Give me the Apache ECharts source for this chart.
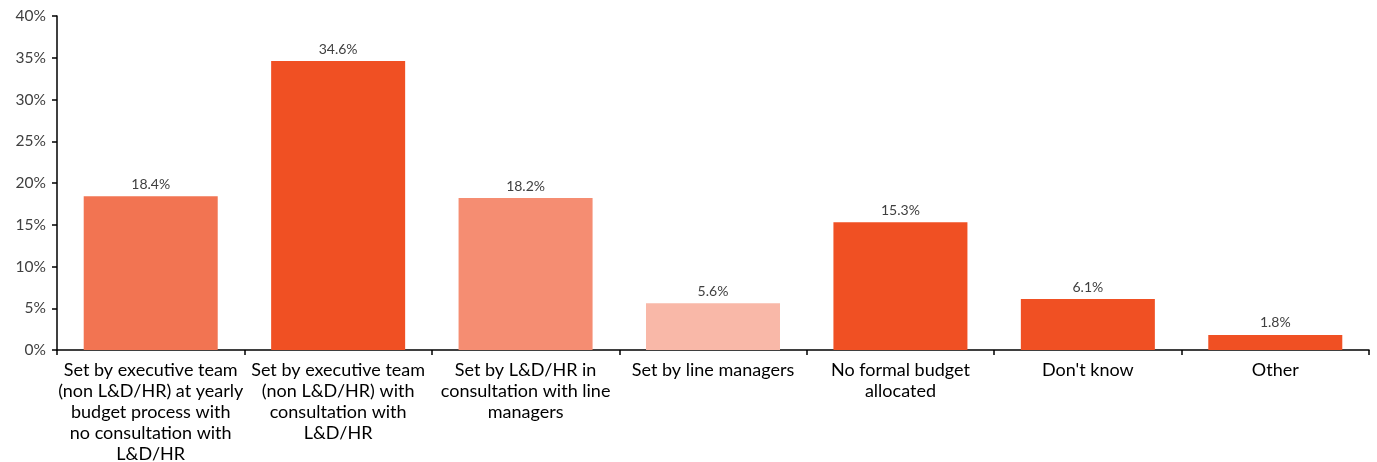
<!DOCTYPE html>
<html>
<head>
<meta charset="utf-8">
<script src="https://cdn.jsdelivr.net/npm/echarts@6/dist/echarts.min.js"></script>
<style>
  html, body { margin: 0; padding: 0; background: #fff; }
  #chart { width: 1377px; height: 462px; }
</style>
</head>
<body>
<div id="chart"></div>
<script>
// Categories (with manual line breaks), values in percent and bar colours
const categories = [
  'Set by executive team\n(non L&D/HR) at yearly\nbudget process with\nno consultation with\nL&D/HR',
  'Set by executive team\n(non L&D/HR) with\nconsultation with\nL&D/HR',
  'Set by L&D/HR in\nconsultation with line\nmanagers',
  'Set by line managers',
  'No formal budget\nallocated',
  "Don't know",
  'Other'
];
const values = [18.4, 34.6, 18.2, 5.6, 15.3, 6.1, 1.8];
const barColors = ['#F27452', '#F05023', '#F58D72', '#F9B8A8', '#F05023', '#F05023', '#F05023'];

const chart = echarts.init(document.getElementById('chart'));
chart.setOption({
  animation: false,
  grid: { left: 57, right: 8, top: 16, bottom: 112, containLabel: false, outerBoundsMode: 'none' },
  xAxis: {
    type: 'category',
    data: categories,
    axisLine: { lineStyle: { color: '#000', width: 1.5 } },
    axisTick: { show: true, length: 5, lineStyle: { color: '#000', width: 1.5 } },
    axisLabel: {
      interval: 0,
      color: '#000',
      fontFamily: 'Lato',
      fontSize: 18,
      lineHeight: 21,
      margin: 10
    }
  },
  yAxis: {
    type: 'value',
    min: 0,
    max: 40,
    interval: 5,
    splitLine: { show: false },
    axisLine: { show: true, lineStyle: { color: '#000', width: 1.5 } },
    axisTick: { show: true, length: 5, lineStyle: { color: '#000', width: 1.5 } },
    axisLabel: {
      formatter: '{value}%',
      color: '#404040',
      fontFamily: 'Lato',
      fontSize: 15.5,
      margin: 11
    }
  },
  series: [{
    type: 'bar',
    data: values.map((v, i) => ({ value: v, itemStyle: { color: barColors[i] } })),
    barWidth: '71.5%',
    label: {
      show: true,
      position: 'top',
      formatter: p => p.value.toFixed(1) + '%',
      color: '#404040',
      fontFamily: 'Lato',
      fontSize: 14,
      distance: 5
    }
  }]
});
</script>
</body>
</html>
